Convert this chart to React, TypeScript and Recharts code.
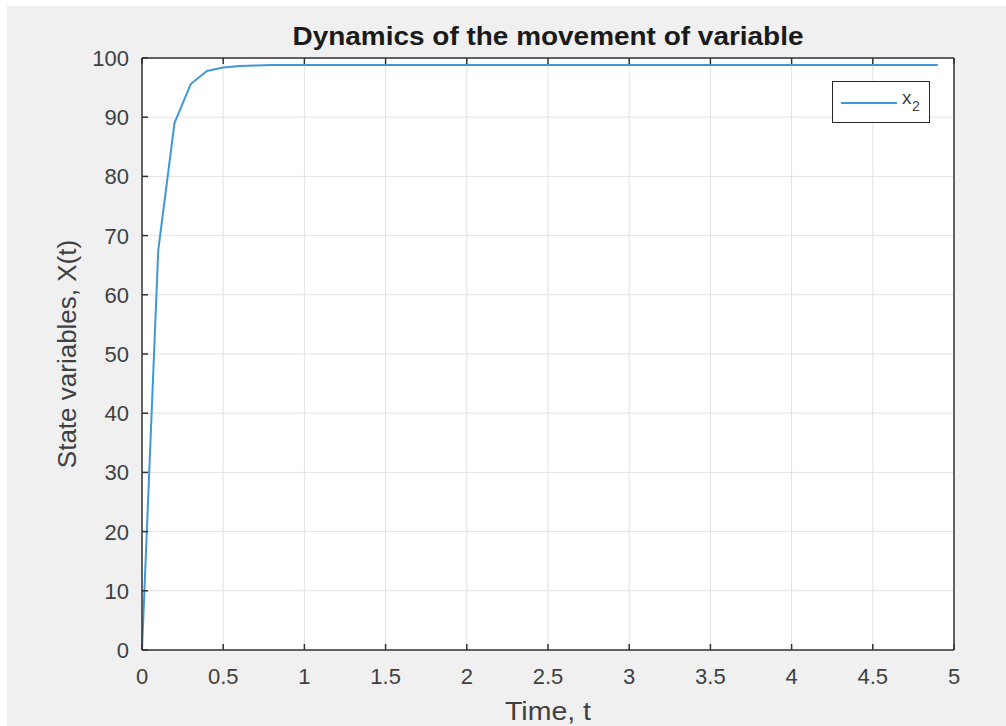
import { LineChart, Line, XAxis, YAxis, CartesianGrid, Legend } from "recharts"

const timeValues = [
  0, 0.1, 0.2, 0.3, 0.4, 0.5, 0.6, 0.7, 0.8, 0.9,
  1.0, 1.1, 1.2, 1.3, 1.4, 1.5, 1.6, 1.7, 1.8, 1.9,
  2.0, 2.1, 2.2, 2.3, 2.4, 2.5, 2.6, 2.7, 2.8, 2.9,
  3.0, 3.1, 3.2, 3.3, 3.4, 3.5, 3.6, 3.7, 3.8, 3.9,
  4.0, 4.1, 4.2, 4.3, 4.4, 4.5, 4.6, 4.7, 4.8, 4.9,
]

const x2Values = [
  0, 67.5, 89, 95.6, 97.8, 98.4, 98.65, 98.75, 98.8, 98.8,
  98.8, 98.8, 98.8, 98.8, 98.8, 98.8, 98.8, 98.8, 98.8, 98.8,
  98.8, 98.8, 98.8, 98.8, 98.8, 98.8, 98.8, 98.8, 98.8, 98.8,
  98.8, 98.8, 98.8, 98.8, 98.8, 98.8, 98.8, 98.8, 98.8, 98.8,
  98.8, 98.8, 98.8, 98.8, 98.8, 98.8, 98.8, 98.8, 98.8, 98.8,
]

const xTicks = [0, 0.5, 1, 1.5, 2, 2.5, 3, 3.5, 4, 4.5, 5]
const yTicks = [0, 10, 20, 30, 40, 50, 60, 70, 80, 90, 100]

const data = timeValues.map((t, i) => ({ t, x2: x2Values[i] }))

const FONT = "'Liberation Sans', Arial, Helvetica, sans-serif"
const AXIS = "#333333"
const TEXT = "#404040"
const LINE = "#3f98d6"

const BottomTick = ({ x, y, payload }: any) => (
  <g>
    <line x1={x} x2={x} y1={y} y2={y - 6} stroke={AXIS} strokeWidth={1.5} />
    <text x={x} y={y + 34} textAnchor="middle" fontSize={22} fill={TEXT} fontFamily={FONT}>
      {payload.value}
    </text>
  </g>
)

const TopTick = ({ x, y }: any) => (
  <line x1={x} x2={x} y1={y} y2={y + 6} stroke={AXIS} strokeWidth={1.5} />
)

const LeftTick = ({ x, y, payload }: any) => (
  <g>
    <line x1={x} x2={x + 6} y1={y} y2={y} stroke={AXIS} strokeWidth={1.5} />
    <text x={x - 13} y={y + 8} textAnchor="end" fontSize={22} fill={TEXT} fontFamily={FONT}>
      {payload.value}
    </text>
  </g>
)

const RightTick = ({ x, y }: any) => (
  <line x1={x} x2={x - 6} y1={y} y2={y} stroke={AXIS} strokeWidth={1.5} />
)

const LegendBox = () => (
  <div
    style={{
      width: 96,
      height: 40,
      border: "1px solid #262626",
      background: "#fff",
      position: "relative",
      fontFamily: FONT,
    }}
  >
    <div style={{ position: "absolute", left: 8, top: 20, width: 56, height: 2, background: LINE }} />
    <span style={{ position: "absolute", left: 69, top: 5, fontSize: 19, color: TEXT }}>x</span>
    <span style={{ position: "absolute", left: 79, top: 16, fontSize: 14, color: TEXT }}>2</span>
  </div>
)

export default function App() {
  return (
    <div style={{ position: "absolute", left: 0, top: 0, width: 1006, height: 726, background: "#fff" }}>
      <div style={{ position: "absolute", left: 7, top: 6, right: 0, bottom: 0, background: "#f0f0f0" }} />
      <div style={{ position: "absolute", left: 0, top: 0 }}>
        <LineChart width={1006} height={726} data={data} margin={{ top: 38, right: 32, bottom: 46, left: 82 }}>
          <CartesianGrid stroke="#e2e2e2" strokeWidth={1} fill="#ffffff" fillOpacity={1} />
          <XAxis
            dataKey="t"
            type="number"
            domain={[0, 5]}
            ticks={xTicks}
            height={30}
            tickLine={false}
            tickSize={0}
            tickMargin={0}
            tick={<BottomTick />}
            axisLine={{ stroke: AXIS, strokeWidth: 1.5 }}
            interval={0}
            label={{
              content: ({ viewBox }: any) => (
                <text
                  x={viewBox.x + viewBox.width / 2}
                  y={viewBox.y + 70}
                  textAnchor="middle"
                  fontSize={26}
                  fill={TEXT}
                  fontFamily={FONT}
                  textLength={86}
                  lengthAdjust="spacingAndGlyphs"
                >
                  Time, t
                </text>
              ),
            }}
          />
          <XAxis
            xAxisId="top"
            dataKey="t"
            type="number"
            orientation="top"
            domain={[0, 5]}
            ticks={xTicks}
            height={20}
            tickLine={false}
            tickSize={0}
            tickMargin={0}
            tick={<TopTick />}
            axisLine={{ stroke: AXIS, strokeWidth: 1.5 }}
            interval={0}
            label={{
              content: ({ viewBox }: any) => (
                <text
                  x={viewBox.x + viewBox.width / 2}
                  y={viewBox.y + viewBox.height - 13}
                  textAnchor="middle"
                  fontSize={25}
                  fontWeight="bold"
                  fill="#1a1a1a"
                  fontFamily={FONT}
                  textLength={511}
                  lengthAdjust="spacingAndGlyphs"
                >
                  Dynamics of the movement of variable
                </text>
              ),
            }}
          />
          <YAxis
            type="number"
            domain={[0, 100]}
            ticks={yTicks}
            width={60}
            tickLine={false}
            tickSize={0}
            tickMargin={0}
            tick={<LeftTick />}
            axisLine={{ stroke: AXIS, strokeWidth: 1.5 }}
            interval={0}
            label={{
              content: ({ viewBox }: any) => (
                <text
                  transform={`translate(${viewBox.x + viewBox.width - 66}, ${viewBox.y + viewBox.height / 2}) rotate(-90)`}
                  textAnchor="middle"
                  fontSize={26}
                  fill={TEXT}
                  fontFamily={FONT}
                >
                  State variables, X(t)
                </text>
              ),
            }}
          />
          <YAxis
            yAxisId="right"
            orientation="right"
            type="number"
            domain={[0, 100]}
            ticks={yTicks}
            width={20}
            tickLine={false}
            tickSize={0}
            tickMargin={0}
            tick={<RightTick />}
            axisLine={{ stroke: AXIS, strokeWidth: 1.5 }}
            interval={0}
          />
          <Legend
            layout="vertical"
            align="center"
            verticalAlign="middle"
            content={<LegendBox />}
            wrapperStyle={{ position: "absolute", left: 832, top: 81, width: 98, height: 42 }}
          />
          <Line
            type="linear"
            dataKey="x2"
            name="x2"
            stroke={LINE}
            strokeWidth={2}
            dot={false}
            activeDot={false}
            isAnimationActive={false}
          />
        </LineChart>
      </div>
    </div>
  )
}
